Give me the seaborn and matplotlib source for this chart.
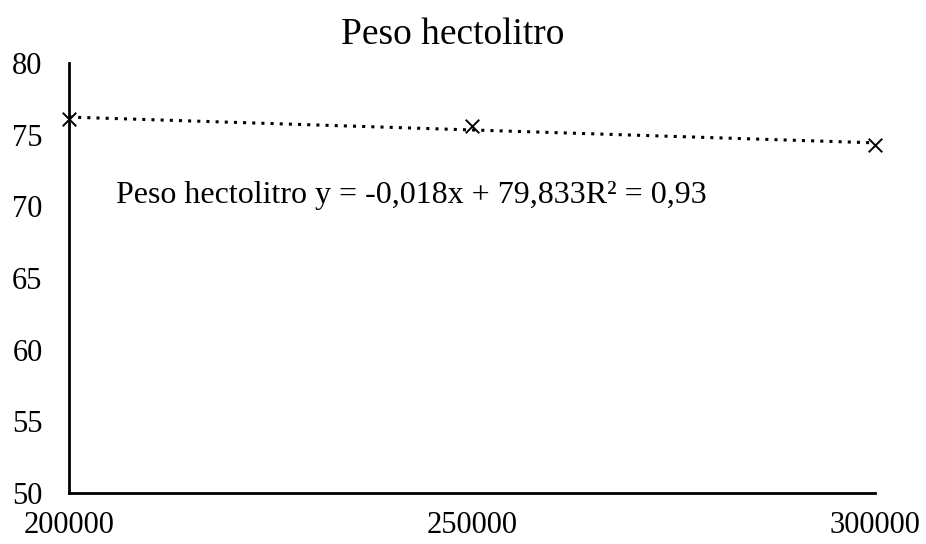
import numpy as np
import matplotlib
matplotlib.use("Agg")
import matplotlib.pyplot as plt
import seaborn as sns

# Data
densidad = [200000, 250000, 300000]
peso_hectolitro = [76.09, 75.62, 74.29]
y_ticks = [50, 55, 60, 65, 70, 75, 80]
x_ticks = [200000, 250000, 300000]
titulo = "Peso hectolitro"
ecuacion = "Peso hectolitro y = -0,018x + 79,833R² = 0,93"

sns.set_style("white")
plt.rcParams["font.family"] = ["Liberation Serif", "DejaVu Serif"]
plt.rcParams["text.color"] = "black"
plt.rcParams["xtick.color"] = "black"
plt.rcParams["ytick.color"] = "black"

fig, ax = plt.subplots(figsize=(9.26, 5.44), dpi=100)
fig.subplots_adjust(left=0.0745, right=0.945, top=0.884, bottom=0.094)

# Trend line (dotted)
sns.regplot(x=densidad, y=peso_hectolitro, ax=ax, scatter=False, ci=None,
            truncate=True, line_kws=dict(color="black", linestyle=(0, (1, 2.0)), linewidth=2.2))
# Points
sns.scatterplot(x=densidad, y=peso_hectolitro, ax=ax, marker="x", color="black",
                s=95, linewidth=1.4, zorder=5, clip_on=False)

ax.set_xlim(200000, 300000)
ax.set_ylim(50, 80)
ax.set_xticks(x_ticks)
ax.set_xticklabels([str(v) for v in x_ticks])
ax.set_yticks(y_ticks)
ax.tick_params(axis="both", length=0, labelsize=22)
ax.tick_params(axis="y", pad=19)
ax.tick_params(axis="x", pad=13)

for s in ["top", "right"]:
    ax.spines[s].set_visible(False)
for s in ["left", "bottom"]:
    ax.spines[s].set_color("black")
    ax.spines[s].set_linewidth(2)

ax.set_title(titulo, fontsize=27, pad=14, x=0.476)
ax.text(0.058, 0.691, ecuacion, transform=ax.transAxes, fontsize=23, va="center", ha="left")

plt.savefig("out.png", dpi=100)
plt.close()
